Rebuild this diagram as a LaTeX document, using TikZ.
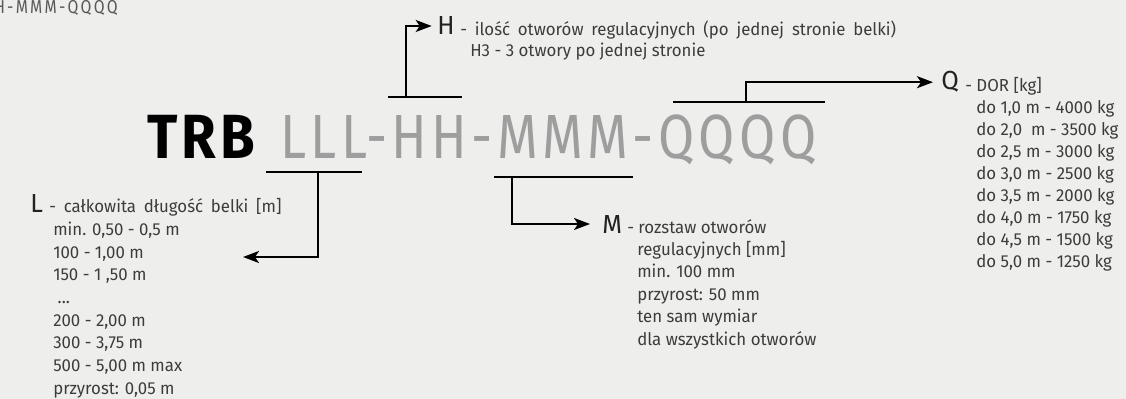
\documentclass[tikz,border=0pt]{standalone}
\usepackage{fontspec}
\setmainfont{Fira Sans}[FakeStretch=0.97]
\newfontfamily\codefont{Fira Sans}[FakeStretch=0.84,LetterSpace=7]
\newfontfamily\copyfont{Fira Sans}[FakeStretch=0.84,LetterSpace=12]
\newfontfamily\trbfont{Fira Sans}[FakeStretch=0.9,LetterSpace=7]
\usetikzlibrary{arrows.meta,positioning}
\definecolor{paper}{HTML}{EEEEEC}
\definecolor{codegrey}{HTML}{9E9E9E}
\definecolor{textgrey}{HTML}{3C3C3C}
\definecolor{keygrey}{HTML}{222222}

\tikzset{
  keyletter/.style={inner sep=0pt,anchor=base west,text=keygrey,
                    font=\fontsize{19.6}{20}\selectfont},
  desc/.style={inner sep=0pt,anchor=base west,align=left,text=textgrey,
               font=\fontsize{13}{16.8}\selectfont},
  widedesc/.style={desc,execute at begin node={\spaceskip=0.45em\relax}},
  bar/.style={line width=1.5pt},
  pointer/.style={line width=1.5pt,-{Stealth[length=12pt,width=9pt,inset=3pt]}}
}

\begin{document}
\begin{tikzpicture}[x=0.75pt,y=-0.75pt]
  \fill[paper] (0,0) rectangle (1126,399);
  \useasboundingbox (0,0) rectangle (1126,399);

  % cut off copy of the code, top left
  \begin{scope}
    \clip (0,0) rectangle (1126,399);
    \node[inner sep=0pt,anchor=base east,text=black!65,
          font=\copyfont\fontsize{14}{14}\selectfont] (codecopy) at (118,14) {LLL-HH-MMM-QQQQ};
  \end{scope}

  % the code itself
  \node[inner sep=0pt,anchor=base west,font=\trbfont\bfseries\fontsize{46.8}{47}\selectfont]
       (trb) at (147,158) {TRB};
  \node[inner sep=0pt,anchor=base west,text=codegrey,font=\codefont\fontsize{46.8}{47}\selectfont]
       (code) at (280,158) {LLL-HH-MMM-QQQQ};

  % bars over and under the groups
  \draw[bar] (388,97) -- (462,97);
  \draw[bar] (266,172) -- (362,172);
  \draw[bar] (494,177) -- (633,177);
  \draw[bar] (673,102) -- (825,102);
  \coordinate (hbar) at (406,97);
  \coordinate (lbar) at (318,172);
  \coordinate (mbar) at (512,177);
  \coordinate (qbar) at (746,102);
  \coordinate (lend) at (243,257);

  % H
  \node[keyletter] (hkey) at (437,35) {H};
  \node[widedesc] (hhead) at (460,36) {- ilość otworów regulacyjnych (po jednej stronie belki)};
  \node[desc] (hlist) at (470,57) {H3 - 3 otwory po jednej stronie};

  % L (a list node sits on the baseline of its last line)
  \node[keyletter] (lkey) at (30,212) {L};
  \node[widedesc] (lhead) at (49,212) {- całkowita długość belki [m]};
  \node[desc,font=\fontsize{13}{17}\selectfont] (llist) at (53,394) {min. 0,50 - 0,5 m\\
    100 - 1,00 m\\
    150 - 1 ,50 m\\
    \ ...\\
    200 - 2,00 m\\
    300 - 3,75 m\\
    500 - 5,00 m max\\
    przyrost: 0,05 m};

  % M
  \node[keyletter] (mkey) at (602,233) {M};
  \node[desc] (mhead) at (627,233) {- rozstaw otworów};
  \node[desc] (mlist) at (637,345) {regulacyjnych [mm]\\
    min. 100 mm\\
    przyrost: 50 mm\\
    ten sam wymiar\\
    dla wszystkich otworów};

  % Q
  \node[keyletter] (qkey) at (941,90) {Q};
  \node[desc] (qhead) at (965,92) {- DOR [kg]};
  \node[desc,font=\fontsize{13}{16.5}\selectfont] (qlist) at (976,267) {do 1,0 m - 4000 kg\\
    do 2,0 \ m - 3500 kg\\
    do 2,5 m - 3000 kg\\
    do 3,0 m - 2500 kg\\
    do 3,5 m - 2000 kg\\
    do 4,0 m - 1750 kg\\
    do 4,5 m - 1500 kg\\
    do 5,0 m - 1250 kg};

  % pointers
  \draw[pointer,shorten >=4pt] (hbar) |- (hkey.west);
  \draw[pointer] (lbar) |- (lend);
  \draw[pointer,shorten >=9pt] (mbar) |- (mkey.west);
  \draw[pointer,shorten >=6pt] (qbar) |- (qkey.west);
\end{tikzpicture}
\end{document}
